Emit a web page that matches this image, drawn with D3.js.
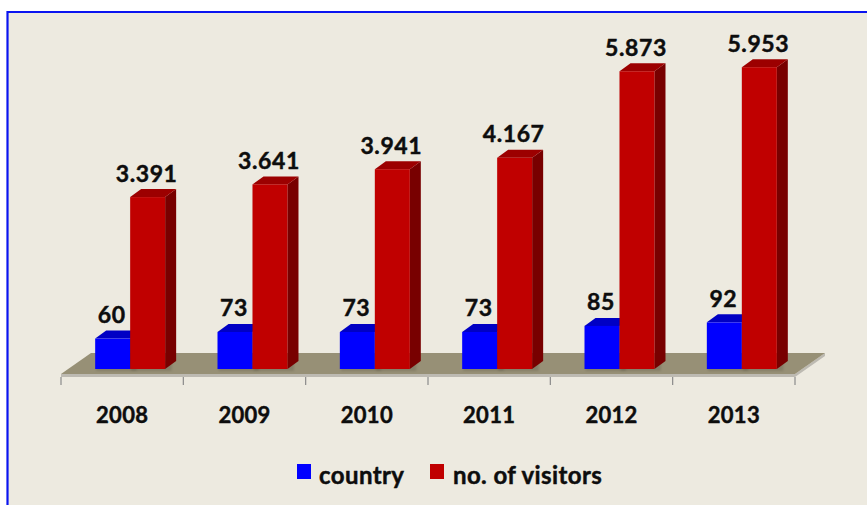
<!DOCTYPE html>
<html>
<head>
<meta charset="utf-8">
<script src="https://cdn.jsdelivr.net/npm/d3@7"></script>
<style>
  html, body { margin: 0; padding: 0; background: #ffffff; }
  svg { display: block; }
  text { font-family: Lato, "Open Sans", sans-serif; font-weight: 700; fill: #0d0d0d; stroke: #0d0d0d; stroke-width: 0.45px; }
</style>
</head>
<body>
<svg id="chart" width="867" height="505"></svg>
<script>
// Chart data
const years = ["2008", "2009", "2010", "2011", "2012", "2013"];
const countries = [60, 73, 73, 73, 85, 92];
const visitors = [3391, 3641, 3941, 4167, 5873, 5953];
const seriesNames = ["country", "no. of visitors"];
const seriesKeys = ["country", "visitors"];

const colors = {
  country: { front: "#0000ff", top: "#0000c4", side: "#00009a" },
  visitors: { front: "#c00000", top: "#9c0000", side: "#780000" }
};

const W = 867, H = 505;
const svg = d3.select("#chart");

// Panel background with blue frame on the top and left
svg.append("rect").attr("x", 7).attr("y", 12).attr("width", W).attr("height", H)
  .attr("fill", "#edeae0");
svg.append("line").attr("x1", 7).attr("x2", W).attr("y1", 12).attr("y2", 12)
  .attr("stroke", "#0a14f0").attr("stroke-width", 2.2);
svg.append("line").attr("x1", 7.5).attr("x2", 7.5).attr("y1", 11).attr("y2", H)
  .attr("stroke", "#0a14f0").attr("stroke-width", 2.2);

// Scales
const floorY = 374;
const baseY = 369;
const x0 = d3.scaleBand().domain(years).range([61, 795]).padding(0);
const groupW = x0.bandwidth() * 0.572;
const x1 = d3.scaleBand().domain(seriesKeys).range([0, groupW]).padding(0);
const plotTop = baseY - 304.2;
// visitors on the primary scale, countries on a secondary one
const yScales = {
  visitors: d3.scaleLinear().domain([0, 6000]).range([baseY, plotTop]),
  country: d3.scaleLinear().domain([0, 600]).range([baseY, plotTop])
};

// 3D offsets
const floorDX = 30, floorDY = -21;
const barDX = 11, barDY = -8;
const barShift = 8; // bars stand part-way back on the floor

const fmt = d3.formatLocale({ decimal: ",", thousands: ".", grouping: [3], currency: ["", ""] }).format(",d");

// Floor slab
const [fx0, fx1] = x0.range();
svg.append("polygon")
  .attr("points", [[fx0, floorY + 3], [fx1, floorY + 3], [fx1 + floorDX, floorY + floorDY + 3], [fx1 + floorDX, floorY + floorDY], [fx1, floorY], [fx0, floorY]].map(p => p.join(",")).join(" "))
  .attr("fill", "#bdbab2");
svg.append("polygon")
  .attr("points", [[fx0, floorY], [fx1, floorY], [fx1 + floorDX, floorY + floorDY], [fx0 + floorDX, floorY + floorDY]].map(p => p.join(",")).join(" "))
  .attr("fill", "#979076");

// Axis ticks
const tickXs = years.map(d => x0(d)).concat([fx1]);
svg.append("g").selectAll("line").data(tickXs).join("line")
  .attr("x1", d => d).attr("x2", d => d)
  .attr("y1", floorY + 3).attr("y2", floorY + 11)
  .attr("stroke", "#8a8a8a").attr("stroke-width", 1.2);

// Year labels
svg.append("g").selectAll("text").data(years).join("text")
  .attr("x", d => x0(d) + x0.bandwidth() / 2)
  .attr("y", 423)
  .attr("text-anchor", "middle")
  .style("font-size", "22px")
  .style("letter-spacing", "0.3px")
  .text(d => d);

// Bars
const rows = years.map((yr, i) => ({ year: yr, country: countries[i], visitors: visitors[i] }));
const defs = svg.append("defs");
defs.append("filter").attr("id", "soft").attr("x", "-10%").attr("y", "-10%").attr("width", "130%").attr("height", "130%")
  .append("feGaussianBlur").attr("stdDeviation", 1.2);

function bar3d(g, left, width, top, c) {
  const right = left + width;
  // faint shadow
  g.append("rect").attr("x", left + 1).attr("y", top + 1).attr("width", width + barDX * 0.5).attr("height", baseY - top + 1)
    .attr("fill", "rgba(0,0,0,0.12)").attr("filter", "url(#soft)");
  // side face
  g.append("polygon")
    .attr("points", [[right, baseY], [right + barDX, baseY + barDY], [right + barDX, top + barDY], [right, top]].map(p => p.join(",")).join(" "))
    .attr("fill", c.side);
  // top face
  g.append("polygon")
    .attr("points", [[left, top], [right, top], [right + barDX, top + barDY], [left + barDX, top + barDY]].map(p => p.join(",")).join(" "))
    .attr("fill", c.top);
  // front face
  g.append("rect").attr("x", left).attr("y", top).attr("width", width).attr("height", baseY - top)
    .attr("fill", c.front);
}

const groups = svg.append("g").selectAll("g").data(rows).join("g");
groups.each(function (d) {
  const g = d3.select(this);
  const gx = x0(d.year) + (x0.bandwidth() - groupW) / 2 + barShift;
  seriesKeys.forEach(k => {
    bar3d(g, gx + x1(k), x1.bandwidth(), yScales[k](d[k]), colors[k]);
  });
  seriesKeys.forEach(k => {
    g.append("text")
      .attr("x", gx + x1(k) + x1.bandwidth() / 2 - 1)
      .attr("y", yScales[k](d[k]) - 15.5)
      .attr("text-anchor", "middle")
      .style("font-size", "23px")
      .style("letter-spacing", "0.6px")
      .text(fmt(d[k]));
  });
});

// Legend
const legend = svg.append("g");
const legendItems = [
  { name: seriesNames[0], color: colors.country.front, sx: 297, tx: 319 },
  { name: seriesNames[1], color: colors.visitors.front, sx: 430, tx: 453 }
];
legend.selectAll("rect").data(legendItems).join("rect")
  .attr("x", d => d.sx).attr("y", 464).attr("width", 14).attr("height", 15)
  .attr("fill", d => d.color);
legend.selectAll("text").data(legendItems).join("text")
  .attr("x", d => d.tx).attr("y", 484)
  .style("font-size", "24px")
  .style("letter-spacing", "0.4px")
  .text(d => d.name);
</script>
</body>
</html>
